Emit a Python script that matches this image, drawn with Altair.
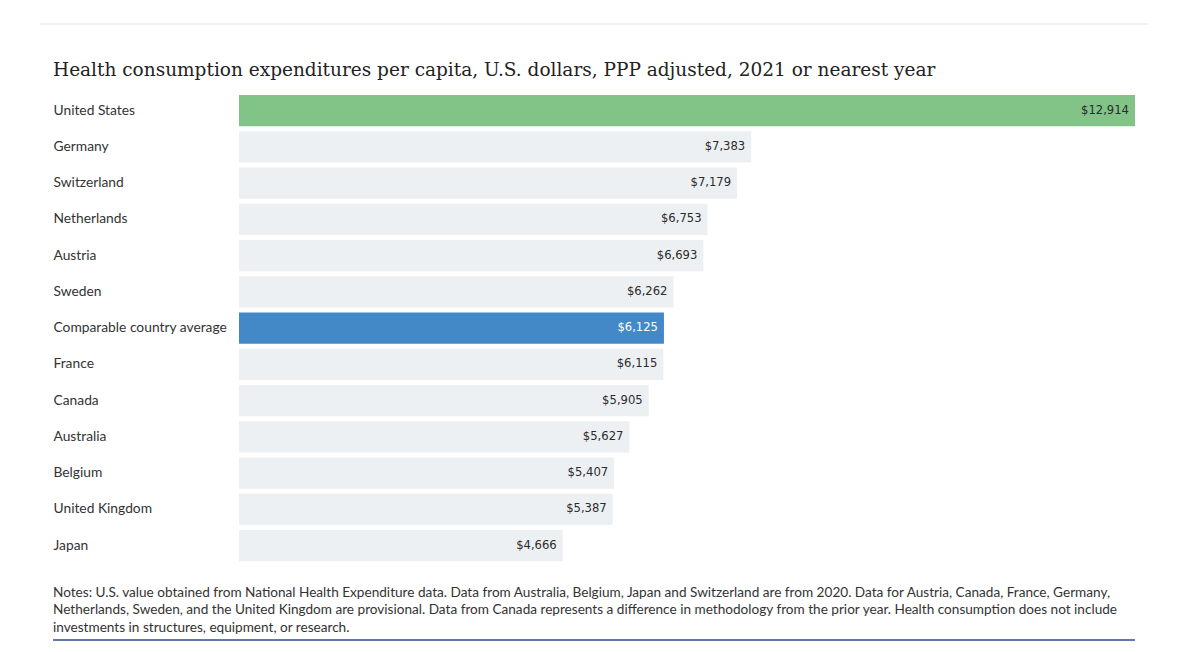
import altair as alt
import pandas as pd

countries = ["United States", "Germany", "Switzerland", "Netherlands", "Austria", "Sweden",
             "Comparable country average", "France", "Canada", "Australia", "Belgium",
             "United Kingdom", "Japan"]
values = [12914, 7383, 7179, 6753, 6693, 6262, 6125, 6115, 5905, 5627, 5407, 5387, 4666]
groups = ["us", "other", "other", "other", "other", "other", "avg", "other", "other",
          "other", "other", "other", "other"]

title_text = "Health consumption expenditures per capita, U.S. dollars, PPP adjusted, 2021 or nearest year"
notes_lines = [
    "Notes: U.S. value obtained from National Health Expenditure data. Data from Australia, Belgium, Japan and Switzerland are from 2020. Data for Austria, Canada, France, Germany,",
    "Netherlands, Sweden, and the United Kingdom are provisional. Data from Canada represents a difference in methodology from the prior year. Health consumption does not include",
    "investments in structures, equipment, or research.",
]

df = pd.DataFrame({"country": countries, "value": values, "group": groups})
df["label"] = df["value"].map(lambda v: f"${v:,}")

W = 896
H = 471.25

y_enc = alt.Y("country:N", sort=countries,
              scale=alt.Scale(paddingInner=0.14, paddingOuter=0.07),
              axis=alt.Axis(title=None, domain=False, ticks=False, tickSize=0,
                            labelAlign="left", labelPadding=186, labelFontSize=13.8,
                            labelFont="Lato", labelColor="#333333", labelBaseline="middle",
                            labelLimit=300))
x_enc = alt.X("value:Q", scale=alt.Scale(domain=[0, 12914], nice=False, zero=True),
              axis=None)

base = alt.Chart(df)

bars = base.mark_bar(cornerRadius=0).encode(
    x=x_enc,
    y=y_enc,
    color=alt.Color("group:N",
                    scale=alt.Scale(domain=["us", "other", "avg"],
                                    range=["#82c387", "#edf0f3", "#4489c7"]),
                    legend=None),
)

labels = base.mark_text(align="right", baseline="middle", dx=-6, fontSize=11.6,
                        font="DejaVu Sans").encode(
    x=x_enc,
    y=alt.Y("country:N", sort=countries),
    text="label:N",
    color=alt.condition(alt.datum.group == "avg", alt.value("#ffffff"), alt.value("#2b2b2b")),
)

one = pd.DataFrame({"a": [0]})

top_line = alt.Chart(one).mark_rule(color="#dde1e5", strokeWidth=1).encode(
    x=alt.value(-199), x2=alt.value(909), y=alt.value(-68.5))

bottom_line = alt.Chart(one).mark_rule(color="#2f4b8e", strokeWidth=1.5).encode(
    x=alt.value(-186), x2=alt.value(896), y=alt.value(547.5))

title = alt.Chart(one).mark_text(text=title_text, align="left", baseline="alphabetic",
                                 font="DejaVu Serif", fontSize=18.5,
                                 color="#222222").encode(
    x=alt.value(-186), y=alt.value(-16.5))

notes = alt.Chart(one).mark_text(text=notes_lines, align="left", baseline="alphabetic",
                                 font="Lato", fontSize=13.6, lineHeight=17.5,
                                 color="#333333").encode(
    x=alt.value(-186), y=alt.value(504))

chart = alt.layer(bars, labels, top_line, bottom_line, title, notes).properties(
    width=W, height=H,
    autosize=alt.AutoSizeParams(type="none"),
    padding={"left": 231, "top": 84.5, "right": 57, "bottom": 80},
).configure(background="white").configure_view(strokeWidth=0)

chart.save("out.html", embed_options={"renderer": "svg", "actions": False})
